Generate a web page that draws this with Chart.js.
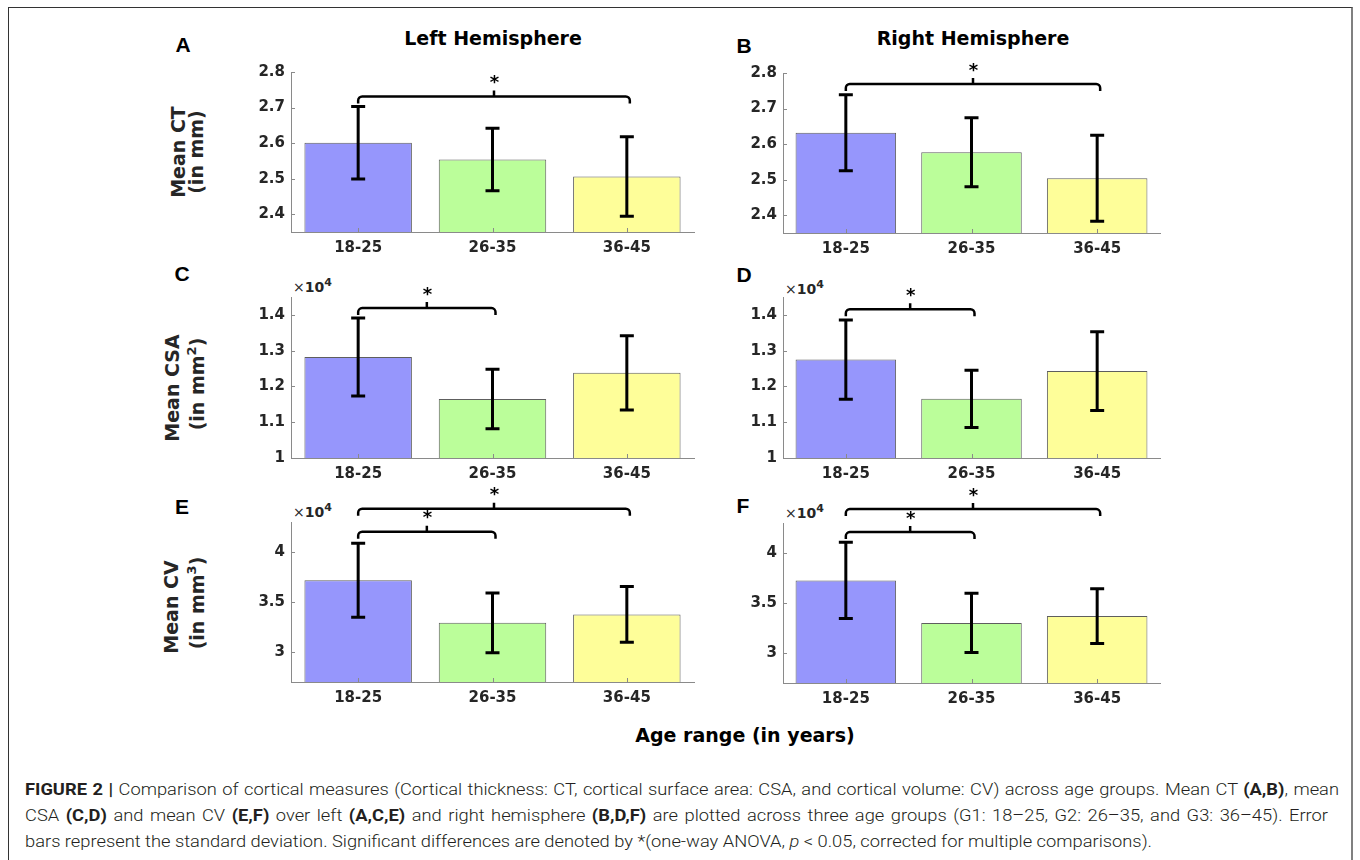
<!DOCTYPE html>
<html>
<head>
<meta charset="utf-8">
<script src="https://cdn.jsdelivr.net/npm/chart.js@4.4.1/dist/chart.umd.min.js"></script>
<style>
  html, body { margin: 0; padding: 0; }
  body { width: 1360px; height: 860px; background: #fff; position: relative; overflow: hidden;
         font-family: "DejaVu Sans", sans-serif; color: #000; }
  .frame { position: absolute; left: 8px; top: 7px; width: 1345px; height: 900px;
           border: 1px solid #333; border-right: 2px solid #808080; box-sizing: border-box; }
  .lbl { position: absolute; white-space: nowrap; transform: translate(-50%, -50%); line-height: 1; }
  .letter { font-family: "Liberation Sans", Arial, sans-serif; font-weight: bold; font-size: 21px; }
  .title { font-weight: bold; font-size: 19px; color: #000; }
  .ylab { font-weight: bold; font-size: 19px; color: #262626; transform: translate(-50%, -50%) rotate(-90deg); }
  .ylab sup { font-size: 13px; line-height: 0; position: relative; top: -1px; vertical-align: super; }
  .mult { font-size: 14px; color: #262626; transform: none; }
  .mult b { font-weight: bold; }
  .mult sup { font-size: 11px; font-weight: bold; line-height: 0; vertical-align: super; }
  .cap { position: absolute; left: 25px; white-space: nowrap;
         font-family: "Liberation Sans Narrow", Roboto, "Liberation Sans", sans-serif;
         font-weight: 300; font-size: 17px; line-height: 1; color: #231f20; transform-origin: 0 50%; }
  .cap b { font-weight: bold; }
  canvas { position: absolute; }
</style>
</head>
<body>
<div class="frame"></div>

<div class="lbl letter" style="left:183px;top:44px">A</div>
<div class="lbl letter" style="left:744px;top:45px">B</div>
<div class="lbl letter" style="left:182px;top:273px">C</div>
<div class="lbl letter" style="left:744px;top:274px">D</div>
<div class="lbl letter" style="left:182px;top:506px">E</div>
<div class="lbl letter" style="left:743px;top:505px">F</div>

<div class="lbl title" style="left:493px;top:38px">Left Hemisphere</div>
<div class="lbl title" style="left:973px;top:38px">Right Hemisphere</div>

<div class="lbl ylab" style="left:178px;top:152px">Mean CT</div>
<div class="lbl ylab" style="left:196px;top:152px">(in mm)</div>
<div class="lbl ylab" style="left:172px;top:388px">Mean CSA</div>
<div class="lbl ylab" style="left:197px;top:384px">(in mm<sup>2</sup>)</div>
<div class="lbl ylab" style="left:171px;top:607px">Mean CV</div>
<div class="lbl ylab" style="left:197px;top:603px">(in mm<sup>3</sup>)</div>

<div class="lbl mult" style="left:293px;top:280px">×<b>10</b><sup>4</sup></div>
<div class="lbl mult" style="left:785px;top:282px">×<b>10</b><sup>4</sup></div>
<div class="lbl mult" style="left:293px;top:505px">×<b>10</b><sup>4</sup></div>
<div class="lbl mult" style="left:785px;top:506px">×<b>10</b><sup>4</sup></div>

<div class="lbl title" style="left:745px;top:735px">Age range (in years)</div>

<div class="cap" style="top:781px" data-w="1314" data-justify="1"><b>FIGURE 2 |</b> Comparison of cortical measures (Cortical thickness: CT, cortical surface area: CSA, and cortical volume: CV) across age groups. Mean CT <b>(A,B)</b>, mean</div>
<div class="cap" style="top:807px" data-w="1303" data-justify="1">CSA <b>(C,D)</b> and mean CV <b>(E,F)</b> over left <b>(A,C,E)</b> and right hemisphere <b>(B,D,F)</b> are plotted across three age groups (G1: 18–25, G2: 26–35, and G3: 36–45). Error</div>
<div class="cap" id="capLast" style="top:833px" data-w="1127">bars represent the standard deviation. Significant differences are denoted by *(one-way ANOVA, <i>p</i> &lt; 0.05, corrected for multiple comparisons).</div>

<script>
// Age groups on the x axis
const ageGroups = ['18-25', '26-35', '36-45'];

// Mean cortical thickness (mm) and its standard deviation
const ctLeftMean  = [2.601, 2.554, 2.506];
const ctLeftSd    = [0.102, 0.088, 0.112];
const ctRightMean = [2.632, 2.577, 2.504];
const ctRightSd   = [0.107, 0.097, 0.121];

// Mean cortical surface area (mm^2) and its standard deviation
const csaLeftMean  = [12820, 11650, 12380];
const csaLeftSd    = [1090, 830, 1040];
const csaRightMean = [12750, 11655, 12430];
const csaRightSd   = [1110, 800, 1100];

// Mean cortical volume (mm^3) and its standard deviation
const cvLeftMean  = [37180, 32920, 33760];
const cvLeftSd    = [3700, 2990, 2790];
const cvRightMean = [37260, 33010, 33690];
const cvRightSd   = [3820, 2960, 2730];

// Significant group pairs (indices into ageGroups)
const sigCT  = [[0, 2]];
const sigCSA = [[0, 1]];
const sigCV  = [[0, 1], [0, 2]];

// Tick values of the y axes
const ctTicks  = [2.4, 2.5, 2.6, 2.7, 2.8];
const csaTicks = [10000, 11000, 12000, 13000, 14000];
const cvTicks  = [30000, 35000, 40000];

const barColors = ['#9696fc', '#bbfe9a', '#fefe99'];
const tickColor = '#262626';
const axisColor = '#8a8a8a';

// Plot rectangle, axis range and bracket heights for each panel
const panels = [
  { x: 291, y: 72,  w: 403, h: 160, mean: ctLeftMean,  sd: ctLeftSd,  min: 2.35,  max: 2.8,   ticks: ctTicks,  div: 1,     sig: sigCT,  levels: [2.731] },
  { x: 783, y: 73,  w: 377, h: 160, mean: ctRightMean, sd: ctRightSd, min: 2.35,  max: 2.8,   ticks: ctTicks,  div: 1,     sig: sigCT,  levels: [2.769] },
  { x: 291, y: 297, w: 403, h: 161, mean: csaLeftMean, sd: csaLeftSd, min: 10000, max: 14500, ticks: csaTicks, div: 10000, sig: sigCSA, levels: [14190] },
  { x: 783, y: 297, w: 377, h: 161, mean: csaRightMean,sd: csaRightSd,min: 10000, max: 14500, ticks: csaTicks, div: 10000, sig: sigCSA, levels: [14160] },
  { x: 291, y: 522, w: 403, h: 160, mean: cvLeftMean,  sd: cvLeftSd,  min: 27000, max: 43000, ticks: cvTicks,  div: 10000, sig: sigCV,  levels: [42030, 44330] },
  { x: 783, y: 523, w: 377, h: 160, mean: cvRightMean, sd: cvRightSd, min: 27000, max: 43000, ticks: cvTicks,  div: 10000, sig: sigCV,  levels: [42090, 44390] }
];

// Error bars, inward tick marks and significance brackets
const annotate = {
  id: 'annotate',
  afterDatasetsDraw(chart, args, opts) {
    const ctx = chart.ctx;
    const meta = chart.getDatasetMeta(0);
    const ys = chart.scales.y;
    const area = chart.chartArea;
    const vals = chart.data.datasets[0].data;

    ctx.save();
    // small inward ticks
    ctx.strokeStyle = axisColor;
    ctx.lineWidth = 1;
    ctx.beginPath();
    opts.ticks.forEach(v => {
      const py = Math.round(ys.getPixelForValue(v)) + 0.5;
      ctx.moveTo(area.left, py); ctx.lineTo(area.left + 4, py);
    });
    meta.data.forEach(bar => {
      const px = Math.round(bar.x) + 0.5;
      ctx.moveTo(px, area.bottom); ctx.lineTo(px, area.bottom - 4);
    });
    ctx.stroke();

    // error bars (mean ± sd)
    ctx.strokeStyle = '#000';
    ctx.lineWidth = 3;
    meta.data.forEach((bar, i) => {
      const top = ys.getPixelForValue(vals[i] + opts.sd[i]);
      const bot = ys.getPixelForValue(vals[i] - opts.sd[i]);
      ctx.beginPath();
      ctx.moveTo(bar.x, top); ctx.lineTo(bar.x, bot);
      ctx.moveTo(bar.x - 7, top); ctx.lineTo(bar.x + 7, top);
      ctx.moveTo(bar.x - 7, bot); ctx.lineTo(bar.x + 7, bot);
      ctx.stroke();
    });

    // significance brackets with a star
    ctx.lineWidth = 2.5;
    ctx.lineJoin = 'round';
    opts.sig.forEach((pair, k) => {
      const x1 = meta.data[pair[0]].x;
      const x2 = meta.data[pair[1]].x + 3;
      const yl = ys.getPixelForValue(opts.levels[k]);
      const xm = (x1 + x2) / 2;
      ctx.beginPath();
      ctx.moveTo(x1, yl + 7);
      ctx.arcTo(x1, yl, x1 + 6, yl, 4);
      ctx.lineTo(x2 - 6, yl);
      ctx.arcTo(x2, yl, x2, yl + 7, 4);
      ctx.lineTo(x2, yl + 7);
      ctx.moveTo(xm, yl);
      ctx.lineTo(xm, yl - 6);
      ctx.stroke();
      ctx.fillStyle = '#000';
      ctx.font = 'bold 18px "DejaVu Sans"';
      ctx.textAlign = 'center';
      ctx.textBaseline = 'middle';
      ctx.fillText('*', xm + 0.5, yl - 13);
    });
    ctx.restore();
  }
};

function fmt(v) { return String(+v.toFixed(2)); }

const padL = 70, padR = 12, padT = 50, padB = 34;

panels.forEach(p => {
  const cv = document.createElement('canvas');
  const W = p.w + padL + padR, H = p.h + padT + padB;
  cv.width = W; cv.height = H;
  cv.style.left = (p.x - padL) + 'px';
  cv.style.top = (p.y - padT) + 'px';
  cv.style.width = W + 'px'; cv.style.height = H + 'px';
  document.body.appendChild(cv);

  const tickFont = { family: 'DejaVu Sans', weight: 'bold', size: 15 };
  new Chart(cv, {
    type: 'bar',
    data: {
      labels: ageGroups,
      datasets: [{
        data: p.mean,
        backgroundColor: barColors,
        borderColor: '#5e5e5e',
        borderWidth: 1,
        borderSkipped: false,
        barPercentage: 0.8,
        categoryPercentage: 1
      }]
    },
    options: {
      responsive: false,
      animation: false,
      devicePixelRatio: 1,
      layout: { padding: { left: 0, top: padT, right: padR, bottom: 0 } },
      plugins: {
        legend: { display: false },
        tooltip: { enabled: false },
        annotate: { sd: p.sd, sig: p.sig, levels: p.levels, ticks: p.ticks }
      },
      scales: {
        x: {
          grid: { display: false, drawTicks: false },
          border: { display: true, color: axisColor, width: 1 },
          ticks: { color: tickColor, font: tickFont, padding: 7, maxRotation: 0 },
          afterFit: s => { s.height = padB; }
        },
        y: {
          min: p.min, max: p.max,
          grid: { display: false, drawTicks: false },
          border: { display: true, color: axisColor, width: 1 },
          ticks: { color: tickColor, font: tickFont, padding: 6, callback: v => fmt(v / p.div) },
          afterBuildTicks: s => { s.ticks = p.ticks.map(v => ({ value: v })); },
          afterFit: s => { s.width = padL; }
        }
      }
    },
    plugins: [annotate]
  });
});

// Caption: the last line sets the horizontal scale, the other lines are justified
function layoutCaption() {
  const lines = Array.from(document.querySelectorAll('.cap'));
  lines.forEach(el => { el.style.transform = 'none'; el.style.wordSpacing = '0px'; });
  const last = document.getElementById('capLast');
  const s = +last.dataset.w / last.getBoundingClientRect().width;
  lines.forEach(el => {
    if (el.dataset.justify) {
      const w = el.getBoundingClientRect().width;
      const gaps = (el.textContent.match(/ /g) || []).length;
      const extra = (+el.dataset.w / s - w) / gaps;
      el.style.wordSpacing = extra + 'px';
    }
    el.style.transform = 'scaleX(' + s + ')';
  });
}
layoutCaption();
if (document.fonts && document.fonts.ready) document.fonts.ready.then(layoutCaption);
</script>
</body>
</html>
